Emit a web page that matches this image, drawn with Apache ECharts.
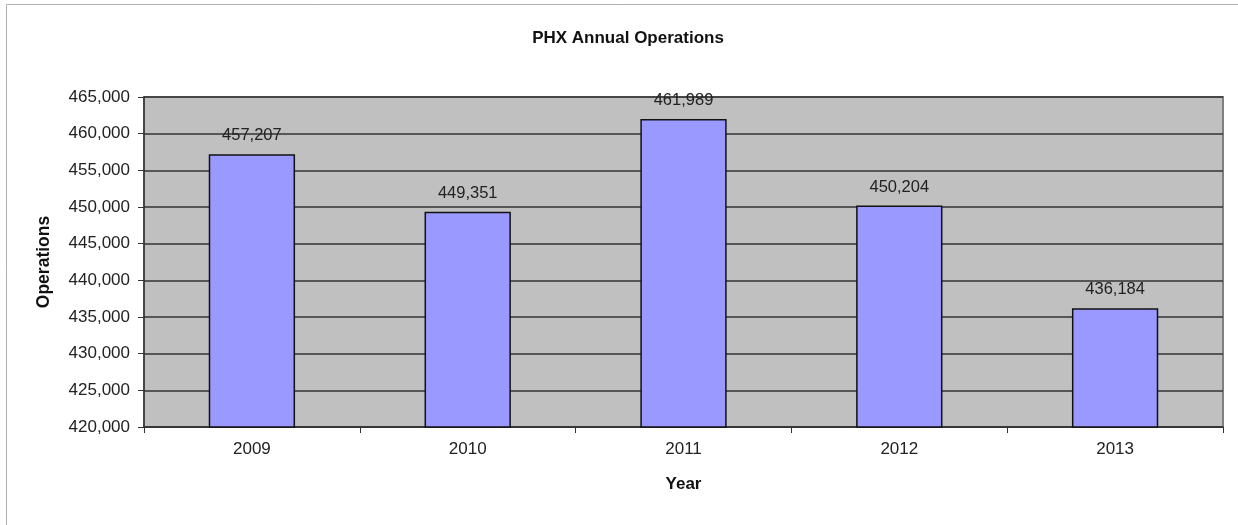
<!DOCTYPE html>
<html><head><meta charset="utf-8">
<script src="https://cdn.jsdelivr.net/npm/echarts@6/dist/echarts.min.js"></script>
<style>html,body{margin:0;padding:0;background:#fff}#c{width:1238px;height:525px}</style>
</head><body><div id="c"></div>
<script>
var categories = ['2009', '2010', '2011', '2012', '2013'];
var operations = [457207, 449351, 461989, 450204, 436184];
var yMin = 420000, yMax = 465000, yStep = 5000;

var chart = echarts.init(document.getElementById('c'), null, {renderer: 'canvas'});
var fmt = function (v) { return Number(v).toLocaleString('en-US'); };
chart.setOption({
  animation: false,
  backgroundColor: '#ffffff',
  title: {
    text: 'PHX Annual Operations', left: 623, top: 25, textAlign: 'center',
    textStyle: {fontFamily: 'Liberation Sans, Arial', fontSize: 17, fontWeight: 'bold', color: '#111'}
  },
  graphic: [{type: 'rect', shape: {x: 6.5, y: 4.5, width: 1240, height: 540}, style: {fill: 'none', stroke: '#b0b0b0', lineWidth: 1}, z: -1}],
  grid: {left: 144, right: 15, top: 97, bottom: 98, show: true, backgroundColor: '#c0c0c0', borderColor: '#808080', borderWidth: 2},
  xAxis: {
    type: 'category', data: categories, name: 'Year', nameLocation: 'middle', nameGap: 49,
    nameTextStyle: {fontFamily: 'Liberation Sans, Arial', fontSize: 17, fontWeight: 'bold', color: '#111'},
    axisLine: {lineStyle: {color: '#333', width: 1.5}},
    axisTick: {show: true, length: 6, lineStyle: {color: '#333'}},
    axisLabel: {fontFamily: 'Liberation Sans, Arial', fontSize: 17, color: '#222', margin: 14}
  },
  yAxis: {
    type: 'value', min: yMin, max: yMax, interval: yStep, name: 'Operations', nameLocation: 'middle', nameGap: 91, nameRotate: 90,
    nameTextStyle: {fontFamily: 'Liberation Sans, Arial', fontSize: 17.5, fontWeight: 'bold', color: '#111'},
    axisLine: {show: true, lineStyle: {color: '#333', width: 1.5}},
    axisTick: {show: true, length: 6, lineStyle: {color: '#333'}},
    splitLine: {lineStyle: {color: '#333', width: 1.5}},
    axisLabel: {fontFamily: 'Liberation Sans, Arial', fontSize: 17, color: '#222', margin: 14, formatter: fmt}
  },
  series: [{
    type: 'bar', data: operations, barWidth: '40%',
    itemStyle: {color: '#9999ff', borderColor: '#111', borderWidth: 1.5},
    label: {show: true, position: 'top', distance: 10, fontFamily: 'Liberation Sans, Arial', fontSize: 16.5, color: '#222', formatter: function (p) { return fmt(p.value); }}
  }]
});
</script></body></html>
